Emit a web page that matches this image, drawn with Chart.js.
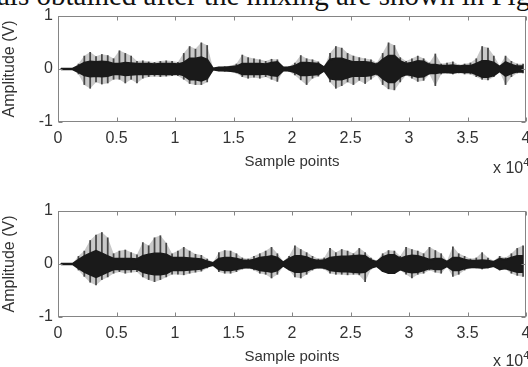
<!DOCTYPE html>
<html>
<head>
<meta charset="utf-8">
<script src="https://cdn.jsdelivr.net/npm/chart.js@4.4.0/dist/chart.umd.min.js"></script>
<style>
  html, body { margin: 0; padding: 0; background: #fff; }
  body { width: 528px; height: 367px; overflow: hidden; position: relative; }
  .plot { position: absolute; left: 0; width: 528px; height: 180px; }
  .caption { position: absolute; left: -3px; top: -21px; font-family: "Liberation Serif", "Times New Roman", serif; font-size: 29px; line-height: 32px; color: #111; white-space: nowrap; }
  .scale10 { position: absolute; left: 493px; font-family: "Liberation Sans", Arial, sans-serif; font-size: 16px; color: #333; white-space: nowrap; }
  .scale10 sup { font-size: 11px; position: relative; top: -1px; }
</style>
</head>
<body>
<div class="caption">als obtained after the mixing are shown in Fig</div>
<div class="plot" style="top:0px"><canvas id="chartTop"></canvas></div>
<div class="plot" style="top:195px"><canvas id="chartBottom"></canvas></div>
<div class="scale10" style="top:157px">x 10<sup>4</sup></div>
<div class="scale10" style="top:350px">x 10<sup>4</sup></div>
<script>
// moi bin = 500 mau, 80 bin tu 0 den 40000
const BIN = 500;
const xTicks = [0, 5000, 10000, 15000, 20000, 25000, 30000, 35000, 40000];
const yTicks = [-1, 0, 1];

// tin hieu 1 (tren): dinh duong, dinh am, nua bien do phan loi dam
const topPeakHi = [0.01,0.01,0.01,0.1,0.25,0.32,0.24,0.28,0.26,0.2,
  0.35,0.3,0.25,0.15,0.16,0.14,0.13,0.15,0.16,0.15,
  0.13,0.3,0.43,0.38,0.5,0.45,0.02,0.04,0.05,0.06,
  0.1,0.27,0.22,0.2,0.18,0.15,0.19,0.18,0.04,0.05,
  0.12,0.26,0.2,0.18,0.14,0.04,0.3,0.43,0.4,0.3,
  0.25,0.22,0.2,0.18,0.12,0.3,0.5,0.45,0.22,0.15,
  0.2,0.25,0.2,0.12,0.29,0.1,0.12,0.14,0.08,0.1,
  0.12,0.2,0.43,0.4,0.25,0.06,0.25,0.15,0.1,0.1];
const topPeakLo = [-0.01,-0.01,-0.01,-0.1,-0.3,-0.37,-0.25,-0.29,-0.27,-0.2,
  -0.2,-0.27,-0.2,-0.27,-0.18,-0.15,-0.14,-0.15,-0.14,-0.13,
  -0.13,-0.2,-0.28,-0.3,-0.3,-0.25,-0.02,-0.04,-0.05,-0.05,
  -0.08,-0.15,-0.18,-0.16,-0.18,-0.15,-0.2,-0.24,-0.04,-0.05,
  -0.12,-0.21,-0.3,-0.18,-0.14,-0.04,-0.25,-0.37,-0.32,-0.25,
  -0.3,-0.22,-0.28,-0.2,-0.12,-0.3,-0.38,-0.4,-0.25,-0.12,
  -0.18,-0.24,-0.22,-0.1,-0.32,-0.1,-0.08,-0.1,-0.08,-0.1,
  -0.1,-0.15,-0.2,-0.21,-0.15,-0.05,-0.3,-0.15,-0.08,-0.08];
const topCore = [0.005,0.005,0.005,0.06,0.12,0.14,0.13,0.14,0.13,0.1,
  0.1,0.12,0.11,0.1,0.1,0.1,0.09,0.1,0.1,0.1,
  0.09,0.12,0.2,0.2,0.22,0.18,0.01,0.03,0.03,0.04,
  0.05,0.1,0.1,0.1,0.1,0.09,0.12,0.13,0.03,0.03,
  0.06,0.12,0.12,0.11,0.1,0.03,0.18,0.2,0.2,0.16,
  0.13,0.13,0.13,0.12,0.08,0.18,0.25,0.25,0.15,0.1,
  0.12,0.15,0.14,0.08,0.08,0.06,0.06,0.07,0.05,0.06,
  0.06,0.1,0.15,0.15,0.12,0.04,0.13,0.08,0.05,0.05];

// tin hieu 2 (duoi)
const botPeakHi = [0.01,0.01,0.01,0.15,0.25,0.45,0.55,0.6,0.5,0.2,
  0.25,0.27,0.22,0.18,0.41,0.35,0.5,0.54,0.4,0.2,
  0.25,0.32,0.25,0.19,0.17,0.1,0.03,0.22,0.26,0.25,
  0.2,0.12,0.1,0.15,0.2,0.25,0.32,0.2,0.05,0.15,
  0.35,0.28,0.22,0.15,0.1,0.12,0.3,0.22,0.28,0.25,
  0.2,0.3,0.22,0.12,0.06,0.2,0.26,0.25,0.15,0.32,
  0.28,0.25,0.2,0.32,0.26,0.2,0.06,0.33,0.2,0.15,
  0.1,0.12,0.22,0.12,0.06,0.15,0.12,0.2,0.3,0.35];
const botPeakLo = [-0.01,-0.01,-0.01,-0.12,-0.24,-0.35,-0.4,-0.3,-0.25,-0.18,
  -0.15,-0.18,-0.16,-0.15,-0.25,-0.3,-0.34,-0.3,-0.25,-0.2,
  -0.2,-0.21,-0.18,-0.16,-0.14,-0.08,-0.03,-0.15,-0.18,-0.18,
  -0.15,-0.1,-0.08,-0.12,-0.18,-0.2,-0.27,-0.2,-0.05,-0.12,
  -0.25,-0.27,-0.2,-0.12,-0.08,-0.1,-0.18,-0.2,-0.2,-0.21,
  -0.2,-0.21,-0.34,-0.1,-0.05,-0.15,-0.18,-0.18,-0.12,-0.2,
  -0.27,-0.2,-0.18,-0.12,-0.16,-0.18,-0.05,-0.24,-0.2,-0.12,
  -0.08,-0.08,-0.1,-0.08,-0.05,-0.12,-0.1,-0.18,-0.22,-0.24];
const botCore = [0.005,0.005,0.005,0.08,0.15,0.2,0.25,0.2,0.15,0.1,
  0.1,0.1,0.1,0.09,0.15,0.18,0.2,0.2,0.18,0.12,
  0.12,0.12,0.11,0.1,0.09,0.05,0.02,0.1,0.12,0.12,
  0.1,0.07,0.06,0.08,0.12,0.13,0.15,0.12,0.03,0.1,
  0.15,0.15,0.13,0.08,0.06,0.07,0.12,0.13,0.14,0.14,
  0.15,0.16,0.15,0.07,0.04,0.13,0.17,0.17,0.1,0.14,
  0.16,0.15,0.12,0.08,0.1,0.1,0.04,0.12,0.12,0.08,
  0.06,0.06,0.07,0.06,0.04,0.1,0.08,0.12,0.15,0.15];

const AXIS_FONT = { family: '"Liberation Sans", Arial, sans-serif', size: 16 };
const TEXT_COLOR = '#333';
const AXIS_COLOR = '#858585';

// khung va vach chia huong vao trong kieu MATLAB
const matlabBox = {
  id: 'matlabBox',
  afterDraw(chart) {
    const ctx = chart.ctx;
    const a = chart.chartArea;
    const sx = chart.scales.x, sy = chart.scales.y;
    const L = Math.round(a.left) + 0.5, R = Math.round(a.right) - 0.5;
    const T = Math.round(a.top) + 0.5, B = Math.round(a.bottom) - 0.5;
    ctx.save();
    ctx.strokeStyle = AXIS_COLOR;
    ctx.lineWidth = 1;
    ctx.strokeRect(L, T, R - L, B - T);
    ctx.beginPath();
    xTicks.forEach(v => {
      const px = Math.round(sx.getPixelForValue(v)) + 0.5;
      ctx.moveTo(px, B); ctx.lineTo(px, B - 4);
      ctx.moveTo(px, T); ctx.lineTo(px, T + 4);
    });
    yTicks.forEach(v => {
      const py = Math.round(sy.getPixelForValue(v)) + 0.5;
      ctx.moveTo(L, py); ctx.lineTo(L + 4, py);
      ctx.moveTo(R, py); ctx.lineTo(R - 4, py);
    });
    ctx.stroke();
    ctx.restore();
  }
};

function makeChart(id, peakHi, peakLo, core) {
  const xs = peakHi.map((h, i) => i * BIN + BIN / 2);
  const peaks = xs.map((x, i) => ({ x: x, y: [peakLo[i], peakHi[i]] }));
  const envHi = xs.map((x, i) => ({ x: x, y: peakHi[i] }));
  const envLo = xs.map((x, i) => ({ x: x, y: peakLo[i] }));
  const coreHi = xs.map((x, i) => ({ x: x, y: core[i] }));
  const coreLo = xs.map((x, i) => ({ x: x, y: -core[i] }));

  return new Chart(document.getElementById(id), {
    type: 'bar',
    data: {
      datasets: [
        // loi dam mau den
        {
          type: 'line', data: coreHi, order: 0,
          borderColor: '#1a1a1a', borderWidth: 2, pointRadius: 0, tension: 0,
          backgroundColor: '#1a1a1a', fill: '+1'
        },
        {
          type: 'line', data: coreLo, order: 0,
          borderColor: '#1a1a1a', borderWidth: 2, pointRadius: 0, tension: 0, fill: false
        },
        // cac gai nhon
        {
          type: 'bar', data: peaks, order: 1,
          backgroundColor: '#464646', borderWidth: 0,
          barPercentage: 0.3, categoryPercentage: 1, grouped: false
        },
        // bao hinh xam nhat
        {
          type: 'line', data: envHi, order: 2,
          borderWidth: 0, pointRadius: 0, tension: 0,
          backgroundColor: '#c9c9c9', fill: '+1'
        },
        {
          type: 'line', data: envLo, order: 2,
          borderWidth: 0, pointRadius: 0, tension: 0, fill: false
        }
      ]
    },
    options: {
      responsive: true,
      maintainAspectRatio: false,
      animation: false,
      layout: { padding: { top: 16, right: 2, left: 0, bottom: 0 } },
      plugins: { legend: { display: false }, tooltip: { enabled: false } },
      scales: {
        x: {
          type: 'linear', min: 0, max: 40000, offset: false,
          grid: { display: false, drawTicks: false },
          border: { display: false },
          afterBuildTicks: s => { s.ticks = xTicks.map(v => ({ value: v })); },
          afterFit: s => { s.height = 58; s.paddingLeft = 0; s.paddingRight = 0; },
          ticks: {
            autoSkip: false, maxRotation: 0, padding: 7,
            color: TEXT_COLOR, font: AXIS_FONT,
            callback: v => String(v / 10000)
          },
          title: {
            display: true, text: 'Sample points', color: TEXT_COLOR,
            font: { family: AXIS_FONT.family, size: 15 }, padding: { top: 0, bottom: 9 }
          }
        },
        y: {
          min: -1, max: 1,
          grid: { display: false, drawTicks: false },
          border: { display: false },
          afterBuildTicks: s => { s.ticks = yTicks.map(v => ({ value: v })); },
          afterFit: s => { s.width = 58; s.paddingTop = 0; s.paddingBottom = 0; },
          ticks: { padding: 5, color: TEXT_COLOR, font: AXIS_FONT },
          title: {
            display: true, text: 'Amplitude (V)', color: TEXT_COLOR,
            font: { family: AXIS_FONT.family, size: 16 }, padding: { top: 0, bottom: 0 }
          }
        }
      }
    },
    plugins: [matlabBox]
  });
}

makeChart('chartTop', topPeakHi, topPeakLo, topCore);
makeChart('chartBottom', botPeakHi, botPeakLo, botCore);
</script>
</body>
</html>
